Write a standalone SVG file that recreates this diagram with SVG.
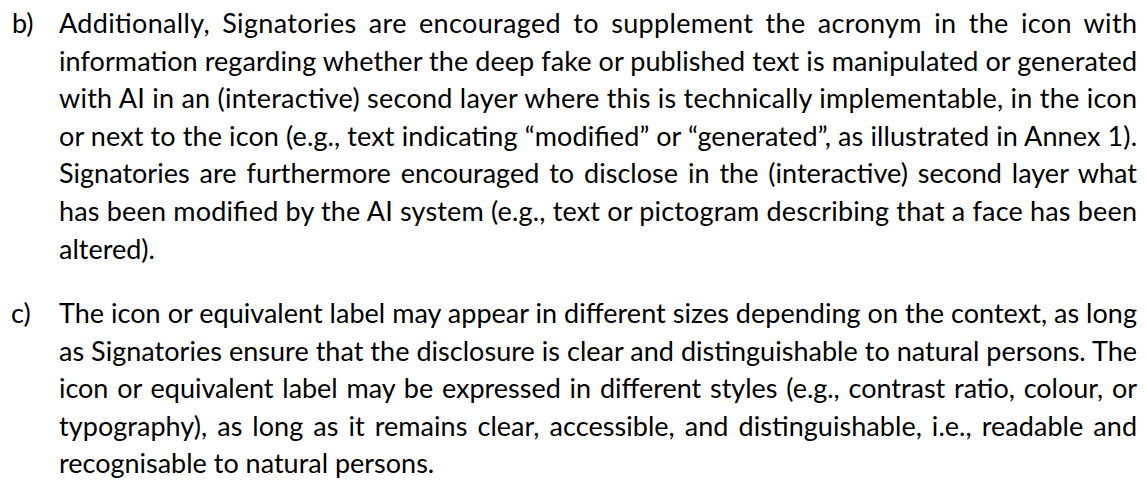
<svg xmlns="http://www.w3.org/2000/svg" width="1146" height="483" viewBox="0 0 1146 483">
<style>
text{font-family:Lato,"Open Sans","Liberation Sans",sans-serif;font-size:27px;fill:#000}
</style>
<rect width="1146" height="483" fill="#fff"/>
<g id="para-b">
<text x="12" y="33">b)</text>
<text x="59" y="33" textLength="1078" lengthAdjust="spacing" word-spacing="5">Additionally, Signatories are encouraged to supplement the acronym in the icon with</text>
<text x="59" y="70.6" textLength="1078" lengthAdjust="spacing">information regarding whether the deep fake or published text is manipulated or generated</text>
<text x="59" y="108.2" textLength="1078" lengthAdjust="spacing">with AI in an (interactive) second layer where this is technically implementable, in the icon</text>
<text x="59" y="145.8" textLength="1078" lengthAdjust="spacing">or next to the icon (e.g., text indicating “modified” or “generated”, as illustrated in Annex 1).</text>
<text x="59" y="183.4" textLength="1078" lengthAdjust="spacing" word-spacing="3">Signatories are furthermore encouraged to disclose in the (interactive) second layer what</text>
<text x="59" y="221" textLength="1078" lengthAdjust="spacing">has been modified by the AI system (e.g., text or pictogram describing that a face has been</text>
<text x="59" y="258.6">altered).</text>
</g>
<g id="para-c">
<text x="11" y="323">c)</text>
<text x="59" y="323" textLength="1078" lengthAdjust="spacing">The icon or equivalent label may appear in different sizes depending on the context, as long</text>
<text x="59" y="360.5" textLength="1078" lengthAdjust="spacing">as Signatories ensure that the disclosure is clear and distinguishable to natural persons. The</text>
<text x="59" y="398" textLength="1078" lengthAdjust="spacing" word-spacing="2">icon or equivalent label may be expressed in different styles (e.g., contrast ratio, colour, or</text>
<text x="59" y="435.5" textLength="1078" lengthAdjust="spacing" word-spacing="3">typography), as long as it remains clear, accessible, and distinguishable, i.e., readable and</text>
<text x="59" y="473">recognisable to natural persons.</text>
</g>
</svg>
